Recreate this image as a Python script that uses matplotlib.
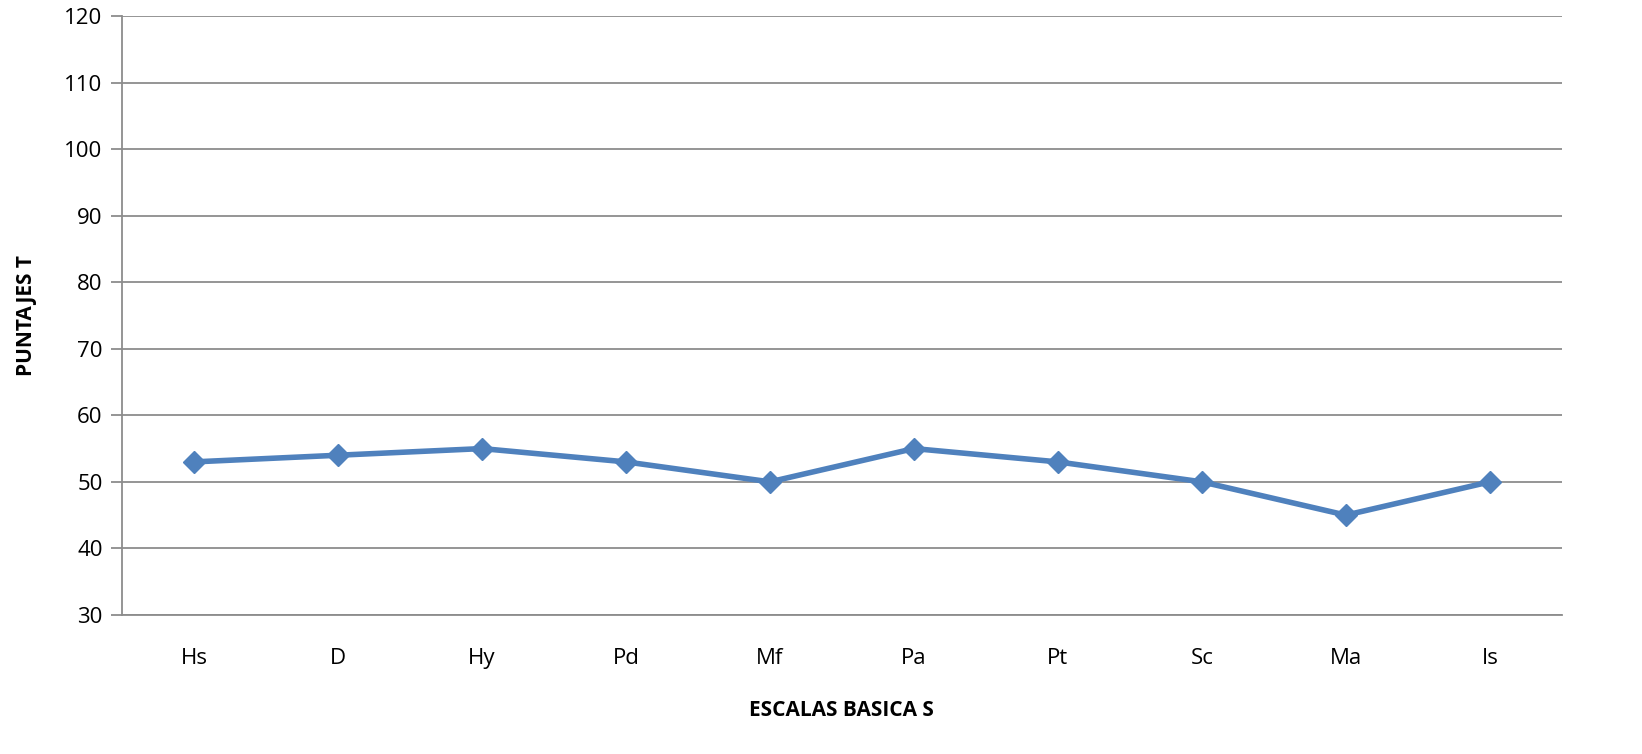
import matplotlib
matplotlib.use("Agg")
from matplotlib import pyplot as plt

# escalas basicas y puntajes T
escalas = ["Hs", "D", "Hy", "Pd", "Mf", "Pa", "Pt", "Sc", "Ma", "Is"]
puntajes = [53, 54, 55, 53, 50, 55, 53, 50, 45, 50]
y_ticks = [30, 40, 50, 60, 70, 80, 90, 100, 110, 120]

plt.rcParams['font.family'] = ['Open Sans', 'DejaVu Sans']

fig = plt.figure(figsize=(16.42, 7.54), dpi=100)
ax = fig.add_axes([0.0743, 0.1844, 0.8769, 0.7944])

x = list(range(len(escalas)))
ax.plot(x, puntajes, color="#4F81BD", linewidth=4, marker="D",
        markersize=11, markerfacecolor="#4F81BD", markeredgecolor="#4F81BD",
        zorder=3)

ax.set_xlim(-0.5, len(escalas) - 0.5)
ax.set_ylim(30, 120)
ax.set_yticks(y_ticks)
ax.set_xticks(x)
ax.set_xticklabels(escalas)

# horizontal grid like excel
ax.yaxis.grid(True, color="#8c8c8c", linewidth=1.3)
ax.set_axisbelow(True)

for s in ["top", "right"]:
    ax.spines[s].set_visible(False)
ax.spines["left"].set_color("#8c8c8c")
ax.spines["bottom"].set_color("#8c8c8c")
ax.spines["left"].set_linewidth(1.3)
ax.spines["bottom"].set_linewidth(1.3)

ax.tick_params(axis="y", length=8, width=1.3, color="#8c8c8c",
               labelsize=16, pad=6)
ax.tick_params(axis="x", length=0, labelsize=16, pad=24)

ax.set_xlabel("ESCALAS BASICA S", fontsize=15, fontweight="bold", labelpad=22)
ax.set_ylabel("PUNTAJES T", fontsize=15, fontweight="bold", labelpad=20)

fig.savefig("out.png", dpi=100)
